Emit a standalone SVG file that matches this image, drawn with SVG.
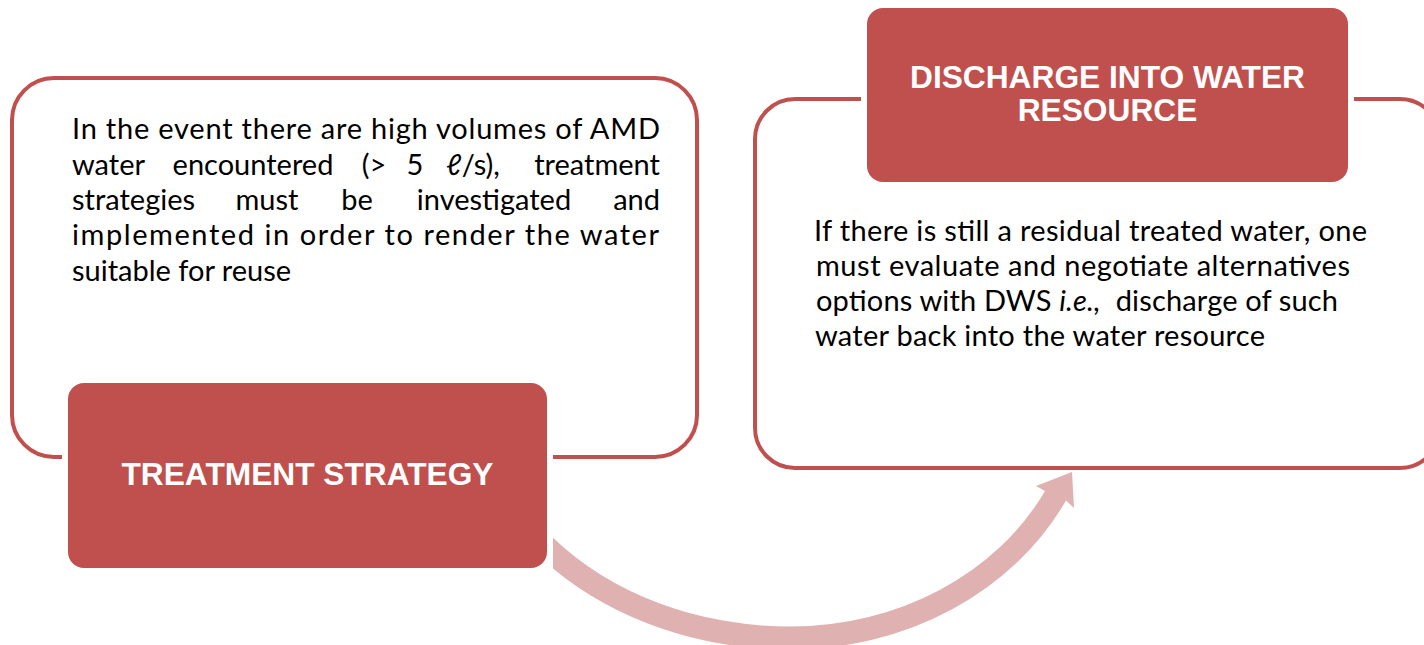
<svg xmlns="http://www.w3.org/2000/svg" width="1424" height="645" viewBox="0 0 1424 645">
  <style>
    .outline { fill: #ffffff; stroke: #C0504D; stroke-width: 4; }
    .label { fill: #C0504D; stroke: #ffffff; stroke-width: 12; paint-order: stroke; }
    .title { font-family: "Liberation Sans", Arial, sans-serif; font-weight: bold; font-size: 31.7px; fill: #ffffff; text-anchor: middle; }
    .body { font-family: Lato, "Open Sans", sans-serif; font-size: 29px; fill: #000000; }
    .mid { text-anchor: middle; }
    .end { text-anchor: end; }
    .arrow { fill: #DFB2B1; }
  </style>
  <rect width="1424" height="645" fill="#ffffff"/>

  <g id="node-treatment">
    <rect class="outline" x="12" y="78" width="685" height="379" rx="42" ry="42"/>
    <text class="body" x="72" y="139" textLength="588" lengthAdjust="spacing">In the event there are high volumes of AMD</text>
    <text class="body" x="72" y="175">water</text>
    <text class="body mid" x="253" y="175">encountered</text>
    <text class="body mid" x="374" y="175">(&gt;</text>
    <text class="body mid" x="415" y="175">5</text>
    <text class="body mid" x="473" y="175">ℓ/s),</text>
    <text class="body end" x="660" y="175">treatment</text>
    <text class="body" x="72" y="210">strategies</text>
    <text class="body mid" x="267" y="210">must</text>
    <text class="body mid" x="357" y="210">be</text>
    <text class="body mid" x="494" y="210">investigated</text>
    <text class="body end" x="660" y="210">and</text>
    <text class="body" x="72" y="245" textLength="587" lengthAdjust="spacing">implemented in order to render the water</text>
    <text class="body" x="72" y="281">suitable for reuse</text>
    <rect class="label" x="68" y="383" width="479" height="185" rx="16" ry="16"/>
    <text class="title" x="307.5" y="485">TREATMENT STRATEGY</text>
  </g>

  <g id="node-discharge">
    <rect class="outline" x="755" y="99" width="685" height="369" rx="40" ry="40"/>
    <text class="body" x="814" y="241" textLength="553" lengthAdjust="spacing">If there is still a residual treated water, one</text>
    <text class="body" x="816" y="276" textLength="534" lengthAdjust="spacing">must evaluate and negotiate alternatives</text>
    <text class="body" x="816" y="311" textLength="522" lengthAdjust="spacing">options with DWS <tspan font-style="italic">i.e.,</tspan>&#160; discharge of such</text>
    <text class="body" x="815" y="346" textLength="450" lengthAdjust="spacing">water back into the water resource</text>
    <rect class="label" x="867" y="8" width="481" height="174" rx="16" ry="16"/>
    <text class="title" x="1107.5" y="88">DISCHARGE INTO WATER</text>
    <text class="title" x="1107.5" y="121">RESOURCE</text>
  </g>

  <g id="connectors">
    <path class="arrow" d="M553,537.8 A308.5,246.5 0 0 0 790,626.5 A285.5,246.5 0 0 0 1045,490.9 L1036,486 L1072,472 L1074,508 L1066,500.5 A308.5,269.5 0 0 1 790,649.5 A331.5,269.5 0 0 1 553,568.4 Z"/>
  </g>
</svg>
